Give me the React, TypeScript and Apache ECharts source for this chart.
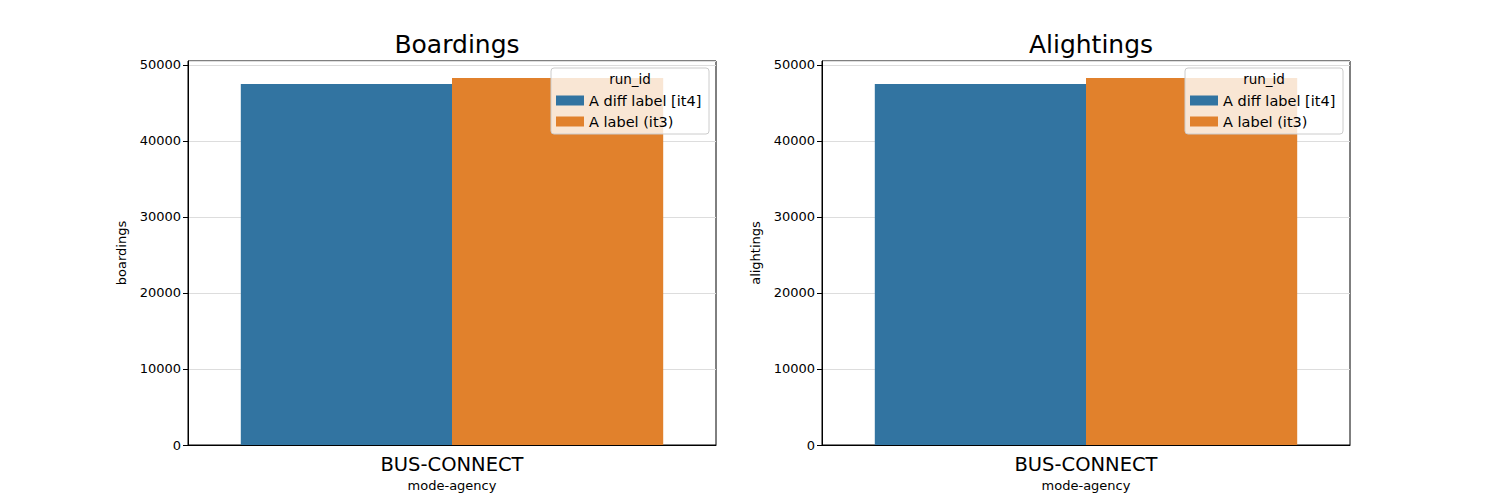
import React, { useEffect, useRef } from "react";
import * as echarts from "echarts";

const categories = ["BUS-CONNECT"];
const seriesNames = ["A diff label [it4]", "A label (it3)"];
const boardings = [47500, 48300];
const alightings = [47500, 48300];
const panelTitles = ["Boardings", "Alightings"];
const yNames = ["boardings", "alightings"];
const colors = ["#3274a1", "#e1812c"];

const FONT = "DejaVu Sans";

export default function App() {
  const ref = useRef<HTMLDivElement>(null);
  useEffect(() => {
    if (!ref.current) return;
    const chart = echarts.init(ref.current, null, { renderer: "svg" });
    const lefts = [188, 822];
    const W = 528;
    const top = 61;
    const H = 384;
    const data = [boardings, alightings];

    const grids = lefts.map((l) => ({
      left: l,
      top,
      width: W,
      height: H,
      show: true,
      borderColor: "#000",
      borderWidth: 1,
      backgroundColor: "transparent",
      containLabel: false,
    }));

    const xAxes = lefts.map((_, i) => ({
      type: "category",
      gridIndex: i,
      data: categories,
      name: "mode-agency",
      nameLocation: "middle",
      nameGap: 34,
      nameTextStyle: { fontFamily: FONT, fontSize: 13, color: "#000" },
      axisLine: { lineStyle: { color: "#000" } },
      axisTick: { alignWithLabel: true, length: 5, lineStyle: { color: "#000" } },
      axisLabel: { fontFamily: FONT, fontSize: 19.5, color: "#000", margin: 9 },
    }));

    const yAxes = lefts.map((_, i) => ({
      type: "value",
      gridIndex: i,
      min: 0,
      max: 50526,
      interval: 10000,
      name: yNames[i],
      nameLocation: "middle",
      nameGap: 60,
      nameTextStyle: { fontFamily: FONT, fontSize: 13, color: "#000" },
      axisLine: { show: true, lineStyle: { color: "#000" } },
      axisTick: { show: true, length: 5, lineStyle: { color: "#000" } },
      axisLabel: {
        fontFamily: FONT,
        fontSize: 13,
        color: "#000",
        margin: 7,
        showMaxLabel: false,
        formatter: (v: number) => String(v),
      },
      splitLine: { show: true, lineStyle: { color: "#dddddd", width: 1 } },
    }));

    const series: any[] = [];
    data.forEach((arr, gi) => {
      seriesNames.forEach((name, si) => {
        series.push({
          type: "bar",
          name,
          xAxisIndex: gi,
          yAxisIndex: gi,
          data: [arr[si]],
          barGap: "0%",
          barCategoryGap: "20%",
          itemStyle: { color: colors[si] },
          z: 2,
        });
      });
    });

    const legends = lefts.map((l) => ({
      orient: "vertical",
      left: l + 363,
      top: 88,
      itemWidth: 28,
      itemHeight: 10,
      itemGap: 6,
      icon: "rect",
      data: seriesNames,
      selectedMode: false,
      textStyle: { fontFamily: FONT, fontSize: 14.5, color: "#000" },
      z: 5,
    }));

    const graphics: any[] = [];
    lefts.forEach((l) => {
      graphics.push({
        type: "rect",
        shape: { x: l + 363, y: 68, width: 158, height: 66, r: 3 },
        style: { fill: "rgba(255,255,255,0.8)", stroke: "#cccccc", lineWidth: 1 },
        z: 4,
      });
      graphics.push({
        type: "text",
        x: l + 442,
        y: 79,
        style: {
          text: "run_id",
          fontFamily: FONT,
          fontSize: 13.5,
          fill: "#000",
          align: "center",
          verticalAlign: "middle",
        },
        z: 5,
      });
    });

    const titles = lefts.map((l, i) => ({
      text: panelTitles[i],
      left: l + W / 2,
      top: 27,
      textAlign: "center",
      textStyle: { fontFamily: FONT, fontSize: 25, fontWeight: "normal", color: "#000" },
    }));

    chart.setOption({
      animation: false,
      backgroundColor: "#fff",
      title: titles,
      grid: grids,
      xAxis: xAxes,
      yAxis: yAxes,
      legend: legends,
      series,
      graphic: graphics,
    });
    return () => chart.dispose();
  }, []);
  return (
    <div
      ref={ref}
      style={{ width: 1500, height: 500, position: "absolute", left: 0, top: 0 }}
    />
  );
}
